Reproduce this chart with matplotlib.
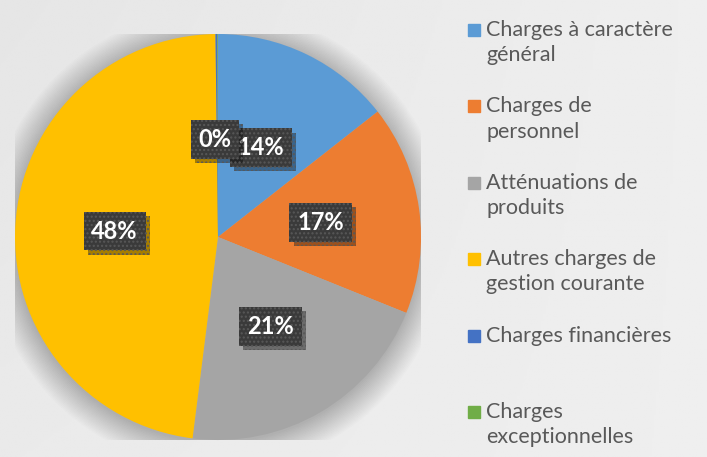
import numpy as np
import matplotlib.pyplot as plt
import matplotlib.patheffects as pe
from matplotlib.patches import Rectangle

# Data
labels = ['Charges à caractère\ngénéral', 'Charges de\npersonnel', 'Atténuations de\nproduits',
          'Autres charges de\ngestion courante', 'Charges financières', 'Charges\nexceptionnelles']
values = [14.4, 16.7, 20.9, 47.8, 0.15, 0.05]
colors = ['#5B9BD5', '#ED7D31', '#A5A5A5', '#FFC000', '#4472C4', '#70AD47']

plt.rcParams['font.family'] = ['Lato', 'DejaVu Sans']

W, H = 707, 457
fig = plt.figure(figsize=(W / 100, H / 100), dpi=100)

# soft gray background
bg = fig.add_axes([0, 0, 1, 1], zorder=-10)
yy, xx = np.mgrid[0:1:200j, 0:1:300j]
grad = 0.935 - 0.035 * (1 - xx) * (0.5 + 0.5 * (1 - yy))
bg.imshow(grad, cmap='gray', vmin=0, vmax=1, aspect='auto', extent=[0, 1, 0, 1], origin='upper')
bg.axis('off')

# pie
cx, cy, r = 218, 237, 203
ax = fig.add_axes([(cx - r) / W, (H - cy - r) / H, 2 * r / W, 2 * r / H])
ax.set_facecolor('none')

# soft shadow under the pie
for k in range(20):
    ax.add_patch(plt.Circle((0.0, -0.012), 1.0 + 0.007 * k, color='black', alpha=0.012,
                            zorder=0, linewidth=0))

wedges, texts, autotexts = ax.pie(values, colors=colors, startangle=90, counterclock=False,
                                  autopct=lambda p: f'{p:.0f}%', pctdistance=0.51,
                                  wedgeprops=dict(linewidth=0), radius=1.0)
autotexts[4].set_position((-0.015, 0.48))
autotexts[5].set_visible(False)
autotexts[0].set_position((0.21, 0.44))
for i, t in enumerate(autotexts):
    if not t.get_visible():
        continue
    t.set_color('white')
    t.set_fontsize(17)
    t.set_fontweight('bold')
    t.set_zorder(5 + i)
    t.set_bbox(dict(boxstyle='square,pad=0.33', facecolor='#3a3a3a', edgecolor='#585858',
                    hatch='....', linewidth=0))
    t.get_bbox_patch().set_path_effects([
        pe.SimplePatchShadow(offset=(3, -3), shadow_rgbFace='black', alpha=0.35), pe.Normal()])
ax.set_xlim(-1, 1)
ax.set_ylim(-1, 1)
ax.axis('off')

# legend
y0, step = 30, 76.4
for i, (lab, col) in enumerate(zip(labels, colors)):
    y = y0 + i * step
    fig.patches.append(Rectangle((468 / W, 1 - (y + 6) / H), 12 / W, 12 / H, color=col,
                                 transform=fig.transFigure, figure=fig))
    fig.text(486 / W, 1 - (y - 10) / H, lab, fontsize=15.5, color='#595959', va='top', ha='left',
             linespacing=1.33)

fig.savefig('out.png', dpi=100)
